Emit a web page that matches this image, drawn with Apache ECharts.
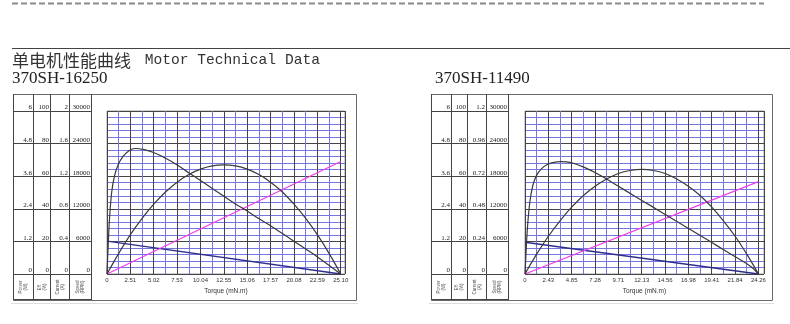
<!DOCTYPE html>
<html><head><meta charset="utf-8">
<script src="https://cdn.jsdelivr.net/npm/echarts/dist/echarts.min.js"></script>
<style>html,body{margin:0;padding:0;background:#fff}#c{width:790px;height:324px}</style>
</head><body><div id="c"></div>
<script>
// ---------- tick labels ----------
const xTickLabelsL = ['0','2.51','5.02','7.53','10.04','12.55','15.06','17.57','20.08','22.59','25.10'];
const xTickLabelsR = ['0','2.43','4.85','7.28','9.71','12.13','14.56','16.98','19.41','21.84','24.26'];
const powerTickLabels = ['0','1.2','2.4','3.6','4.8','6'];
const effTickLabels = ['0','20','40','60','80','100'];
const currentTickLabelsL = ['0','0.4','0.8','1.2','1.6','2'];
const currentTickLabelsR = ['0','0.24','0.48','0.72','0.96','1.2'];
const speedTickLabels = ['0','6000','12000','18000','24000','30000'];
const unitLabels = ['Power\n(W)','Eff.\n(%)','Current\n(A)','Speed\n(RPM)'];

// ---------- 370SH-16250 ----------
const effTorqueL = [0,0.1,0.25,0.5,0.8,1.2,1.7,2.3,3.0,4.0,5.0,6.3,7.5,8.8,10.0,11.3,12.6,13.8,15.1,16.3,17.6,18.8,20.1,21.3,22.6,23.8,25.1];
const effL       = [0,14,32,50,60,67,72,75.3,77,76.3,74.5,71,67,62,57.5,52.5,47.5,43,38.5,34,29.5,25,20,15.5,10.5,5.5,0];
const powerTorqueL = [0,1.26,2.51,3.77,5.02,6.28,7.53,8.79,10.04,11.30,12.55,13.81,15.06,16.32,17.57,18.83,20.08,21.34,22.59,23.85,25.10];
const powerL       = [0,0.76,1.45,2.05,2.57,3.02,3.38,3.66,3.86,3.98,4.02,3.98,3.86,3.66,3.38,3.02,2.57,2.05,1.45,0.76,0];
const lineTorqueL = [0,25.10];
const speedL   = [6050,0];
const currentL = [0,1.38];

// ---------- 370SH-11490 ----------
const effTorqueR = [0,0.1,0.25,0.5,0.8,1.2,1.7,2.3,3.0,3.74,4.78,6.17,7.90,9.63,11.37,13.10,14.83,16.57,18.30,20.03,21.76,23.50,24.26];
const effR       = [0,12,28,44,54,60.5,64.5,67.2,68.5,68.9,68.3,65.4,60.3,54.1,47.9,41.8,35.6,29.4,23.3,17.1,10.9,4.5,0];
const powerTorqueR = [0,1.21,2.43,3.64,4.85,6.07,7.28,8.49,9.70,10.92,12.13,13.34,14.56,15.77,16.98,18.20,19.41,20.62,21.84,23.05,24.26];
const powerR       = [0,0.73,1.39,1.96,2.46,2.89,3.23,3.50,3.70,3.81,3.85,3.81,3.70,3.50,3.23,2.89,2.46,1.96,1.39,0.73,0];
const lineTorqueR = [0,24.26];
const speedR   = [5850,0];
const currentR = [0,0.68];

const zip = (a,b) => a.map((v,i)=>[v,b[i]]);

const TOP = 111, H = 163;
const grids = [], xAxes = [], yAxes = [], series = [], graphics = [];
const DARK = '#444', BLUE = '#7676e0';

function addChart(c) {
  const gi = grids.length;
  grids.push({left:c.plotLeft, top:TOP, width:c.plotWidth, height:H, show:true, borderColor:'#a0a0a0', borderWidth:1, containLabel:false, outerBoundsMode:'none'});
  const xi = xAxes.length;
  xAxes.push({gridIndex:gi, type:'value', min:0, max:c.xMax, interval:c.xInterval,
    axisLine:{show:false}, axisTick:{show:false},
    axisLabel:{fontSize:6, color:'#333', margin:3, fontFamily:'Liberation Sans', showMaxLabel:false, hideOverlap:false,
      formatter:(v,i)=> (c.xLabels[i] !== undefined ? c.xLabels[i] : '')},
    splitLine:{show:true, lineStyle:{color:DARK, width:1}},
    minorTick:{show:false, splitNumber:2},
    minorSplitLine:{show:true, lineStyle:{color:BLUE, width:1}},
    name:'Torque (mN.m)', nameLocation:'middle', nameGap:12,
    nameTextStyle:{fontSize:6.5, color:'#333', fontFamily:'Liberation Sans'}});
  const yb = yAxes.length;
  yAxes.push({gridIndex:gi, type:'value', min:0, max:6, interval:1.2, axisLine:{show:false}, axisTick:{show:false}, axisLabel:{show:false},
    splitLine:{show:true, lineStyle:{color:DARK, width:1}}, minorTick:{show:false, splitNumber:5},
    minorSplitLine:{show:true, lineStyle:{color:BLUE, width:1}}});
  yAxes.push({gridIndex:gi, type:'value', min:0, max:100, show:false});
  yAxes.push({gridIndex:gi, type:'value', min:0, max:c.currentMax, show:false});
  yAxes.push({gridIndex:gi, type:'value', min:0, max:30000, show:false});
  // table of scales
  for (let k=0;k<4;k++) {
    const g = grids.length;
    grids.push({left:c.colX[k], top:TOP, width:c.colX[k+1]-c.colX[k], height:H, outerBoundsMode:'none'});
    xAxes.push({gridIndex:g, type:'value', show:false, min:0, max:1});
    const labels = c.tableLabels[k];
    yAxes.push({gridIndex:g, type:'value', position:'right', min:0, max:5, interval:1,
      axisLine:{show:false}, axisTick:{show:false},
      splitLine:{show:true, lineStyle:{color:DARK, width:1}},
      axisLabel:{inside:true, margin:1, verticalAlign:'bottom', fontSize:7, fontFamily:'Liberation Serif', color:'#222',
        formatter:(v,i)=>labels[i]}});
  }
  const common = {type:'line', xAxisIndex:xi, symbol:'none', silent:true, animation:false, z:5};
  series.push(Object.assign({}, common, {yAxisIndex:yb+3, data:zip(c.lineTorque, c.speed), lineStyle:{color:'#2e2e8e', width:1.4}}));
  series.push(Object.assign({}, common, {yAxisIndex:yb+2, data:zip(c.lineTorque, c.current), lineStyle:{color:'#f03cf0', width:1.2}}));
  series.push(Object.assign({}, common, {yAxisIndex:yb+0, data:zip(c.powerTorque, c.power), smooth:0.4, lineStyle:{color:'#3a3a3a', width:1.2}}));
  series.push(Object.assign({}, common, {yAxisIndex:yb+1, data:zip(c.effTorque, c.eff), smooth:0.4, lineStyle:{color:'#3a3a3a', width:1.2}}));
  // frame + table lines
  graphics.push({type:'rect', shape:{x:c.box[0]+0.5, y:c.box[1]+0.5, width:c.box[2]-c.box[0], height:c.box[3]-c.box[1]}, style:{fill:'none', stroke:'#6a6a6a', lineWidth:1}, silent:true});
  c.colX.forEach(x=>{
    graphics.push({type:'line', shape:{x1:x+0.5, y1:c.box[1], x2:x+0.5, y2:299.5}, style:{stroke:DARK, lineWidth:1}, silent:true});
  });
  graphics.push({type:'line', shape:{x1:c.colX[0], y1:299.5, x2:c.colX[4]+1, y2:299.5}, style:{stroke:DARK, lineWidth:1}, silent:true});
  graphics.push({type:'line', shape:{x1:c.colX[0]-2, y1:303.5, x2:c.box[2]+2, y2:303.5}, style:{stroke:'#dedede', lineWidth:1}, silent:true});
  for (let k=0;k<4;k++) {
    graphics.push({type:'text', x:(c.colX[k]+c.colX[k+1])/2+0.5, y:287, rotation:Math.PI/2, silent:true,
      style:{text:unitLabels[k], fontSize:4.5, lineHeight:5, fill:'#555', align:'center', verticalAlign:'middle', fontFamily:'Liberation Sans'}});
  }
}

addChart({plotLeft:107, plotWidth:238, xMax:25.56, xInterval:2.51, xLabels:xTickLabelsL, currentMax:2,
  colX:[13,33,50,69,91], box:[13,94,356,300],
  tableLabels:[powerTickLabels, effTickLabels, currentTickLabelsL, speedTickLabels],
  effTorque:effTorqueL, eff:effL, powerTorque:powerTorqueL, power:powerL, lineTorque:lineTorqueL, speed:speedL, current:currentL});
addChart({plotLeft:525, plotWidth:239, xMax:24.84, xInterval:2.426, xLabels:xTickLabelsR, currentMax:1.2,
  colX:[431,451,467,486,508], box:[431,94,772,300],
  tableLabels:[powerTickLabels, effTickLabels, currentTickLabelsR, speedTickLabels],
  effTorque:effTorqueR, eff:effR, powerTorque:powerTorqueR, power:powerR, lineTorque:lineTorqueR, speed:speedR, current:currentR});

graphics.push({type:'line', shape:{x1:12, y1:3.5, x2:764, y2:3.5}, style:{stroke:'#8a8a8a', lineWidth:2, lineDash:[6,3]}, silent:true});
graphics.push({type:'line', shape:{x1:12, y1:48.5, x2:790, y2:48.5}, style:{stroke:'#444', lineWidth:1}, silent:true});

const option = {
  animation:false,
  backgroundColor:'#fff',
  title:[
    {text:'{a|单电机性能曲线}{b| Motor Technical Data}', left:12, top:52, padding:0,
      textStyle:{fontWeight:'normal', rich:{a:{fontFamily:'Noto Sans CJK SC', fontSize:17, fontWeight:'normal', color:'#333', lineHeight:17, padding:[0,5,0,0]},
                        b:{fontFamily:'Liberation Mono', fontSize:14.6, fontWeight:'normal', color:'#333', lineHeight:17}}}},
    {text:'370SH-16250', left:12, top:70, padding:0, textStyle:{fontFamily:'Liberation Serif', fontSize:17, fontWeight:'normal', color:'#222', lineHeight:17}},
    {text:'370SH-11490', left:435, top:70, padding:0, textStyle:{fontFamily:'Liberation Serif', fontSize:17, fontWeight:'normal', color:'#222', lineHeight:17}}
  ],
  grid:grids, xAxis:xAxes, yAxis:yAxes, series:series, graphic:graphics
};
const chart = echarts.init(document.getElementById('c'), null, {renderer:'canvas'});
chart.setOption(option);
</script></body></html>
